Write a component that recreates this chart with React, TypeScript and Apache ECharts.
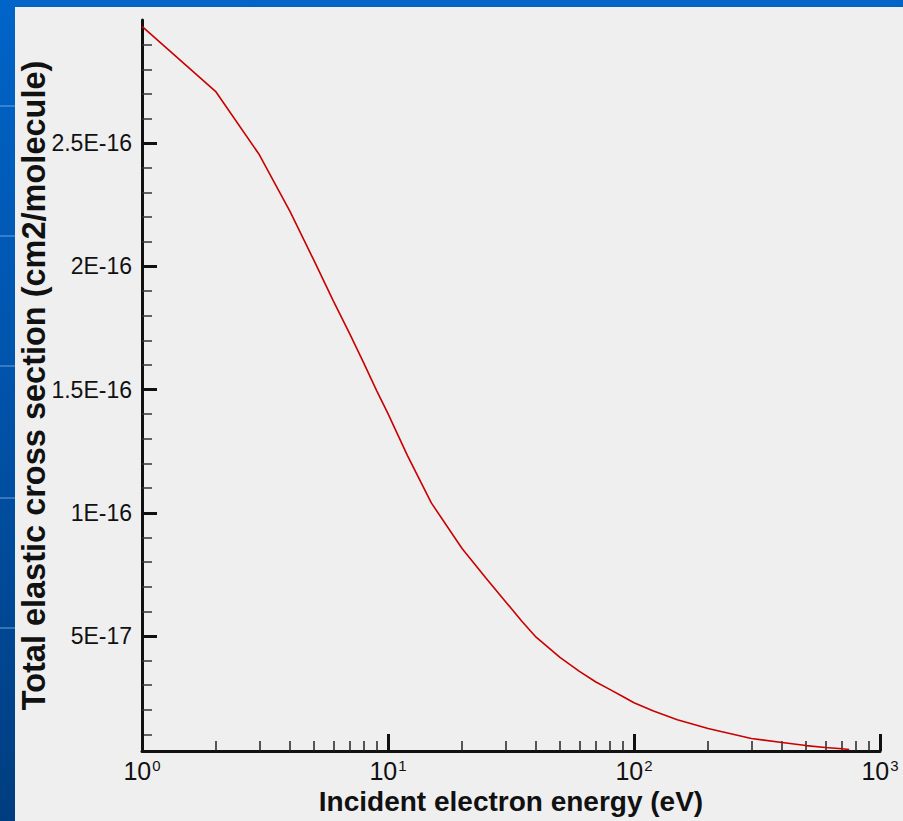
import React, { useEffect, useRef } from "react";
import * as echarts from "echarts";

const energy = [1, 2, 3, 4, 5, 6, 7, 8, 9, 10, 12, 15, 20, 25, 30, 35, 40, 50, 60, 70, 80, 90, 100, 120, 150, 200, 300, 400, 500, 600, 700, 750];
const crossSection = [
  2.974e-16, 2.708e-16, 2.453e-16, 2.222e-16, 2.024e-16, 1.859e-16, 1.725e-16, 1.604e-16, 1.495e-16, 1.402e-16,
  1.232e-16, 1.04e-16, 8.55e-17, 7.35e-17, 6.4e-17, 5.6e-17, 4.95e-17, 4.13e-17, 3.56e-17, 3.13e-17, 2.82e-17,
  2.54e-17, 2.29e-17, 1.95e-17, 1.6e-17, 1.24e-17, 8.4e-18, 6.75e-18, 5.5e-18, 4.7e-18, 4.2e-18, 3.9e-18,
];

const yMajorValues = [5e-17, 1e-16, 1.5e-16, 2e-16, 2.5e-16];
const yMajorLabels = ["5E-17", "1E-16", "1.5E-16", "2E-16", "2.5E-16"];
const yMinorValues = [1e-17, 2e-17, 3e-17, 4e-17, 6e-17, 7e-17, 8e-17, 9e-17, 1.1e-16, 1.2e-16, 1.3e-16, 1.4e-16, 1.6e-16, 1.7e-16, 1.8e-16, 1.9e-16, 2.1e-16, 2.2e-16, 2.3e-16, 2.4e-16, 2.6e-16, 2.7e-16, 2.8e-16, 2.9e-16];
const xMajorValues = [1, 10, 100, 1000];
const xMajorExponents = ["0", "1", "2", "3"];
const xMinorValues = [2, 3, 4, 5, 6, 7, 8, 9, 20, 30, 40, 50, 60, 70, 80, 90, 200, 300, 400, 500, 600, 700, 800, 900];

const Y_MIN = 3.3e-18;
const Y_MAX = 3e-16;

const stripLines = [105, 235, 365, 497, 627];

export default function App() {
  const ref = useRef<HTMLDivElement>(null);

  useEffect(() => {
    if (!ref.current) return;
    const chart = echarts.init(ref.current, null, { renderer: "svg" });
    const font = "'Liberation Sans', Arial, Helvetica, sans-serif";
    const nearestIndex = (arr: number[], v: number) => {
      let best = 0;
      for (let i = 1; i < arr.length; i++) {
        if (Math.abs(arr[i] - v) < Math.abs(arr[best] - v)) best = i;
      }
      return best;
    };
    chart.setOption({
      animation: false,
      backgroundColor: "#efefef",
      grid: { left: 127, right: 23, top: 13, bottom: 70, containLabel: false, outerBoundsMode: "none" },
      xAxis: [
        {
          type: "log",
          logBase: 10,
          min: 1,
          max: 1000,
          name: "Incident electron energy (eV)",
          nameLocation: "middle",
          nameGap: 36,
          nameMoveOverlap: false,
          nameTextStyle: { fontFamily: font, fontWeight: "bold", fontSize: 28, color: "#111" },
          axisLine: { show: true, lineStyle: { color: "#111", width: 3 } },
          axisTick: { show: true, inside: true, length: 17, lineStyle: { color: "#111", width: 3 }, customValues: xMajorValues },
          axisLabel: {
            show: true,
            margin: 7,
            customValues: xMajorValues,
            showMinLabel: true,
            showMaxLabel: true,
            formatter: (v: number) => "{b|10}{s|" + xMajorExponents[nearestIndex(xMajorValues, v)] + "}",
            rich: {
              b: { fontFamily: font, fontSize: 25, color: "#111", lineHeight: 26, verticalAlign: "top" },
              s: { fontFamily: font, fontSize: 15, color: "#111", lineHeight: 26, verticalAlign: "top", padding: [0, 0, 0, 1] },
            },
          },
          splitLine: { show: false },
          minorTick: { show: false },
        },
        {
          type: "log",
          logBase: 10,
          min: 1,
          max: 1000,
          position: "bottom",
          axisLine: { show: false },
          axisTick: { show: true, inside: true, length: 10, lineStyle: { color: "#222", width: 1.5 }, customValues: xMinorValues },
          axisLabel: { show: false },
          splitLine: { show: false },
        },
      ],
      yAxis: [
        {
          type: "value",
          min: Y_MIN,
          max: Y_MAX,
          name: "Total elastic cross section (cm2/molecule)",
          nameLocation: "middle",
          nameGap: 92,
          nameRotate: 90,
          nameMoveOverlap: false,
          nameTextStyle: { fontFamily: font, fontWeight: "bold", fontSize: 32.5, color: "#111" },
          axisLine: { show: true, lineStyle: { color: "#111", width: 3 } },
          axisTick: { show: true, inside: true, length: 15, lineStyle: { color: "#111", width: 3 }, customValues: yMajorValues },
          axisLabel: {
            show: true,
            margin: 10,
            customValues: yMajorValues,
            fontFamily: font,
            fontSize: 23,
            color: "#111",
            formatter: (v: number) => yMajorLabels[nearestIndex(yMajorValues, v)],
          },
          splitLine: { show: false },
        },
        {
          type: "value",
          min: Y_MIN,
          max: Y_MAX,
          position: "left",
          axisLine: { show: false },
          axisTick: { show: true, inside: true, length: 10, lineStyle: { color: "#333", width: 1.5 }, customValues: yMinorValues },
          axisLabel: { show: false },
          splitLine: { show: false },
        },
      ],
      series: [
        {
          type: "line",
          xAxisIndex: 0,
          yAxisIndex: 0,
          showSymbol: false,
          symbol: "none",
          data: energy.map((e, i) => [e, crossSection[i]]),
          lineStyle: { color: "#c80000", width: 1.6 },
          z: 1,
        },
      ],
    });
    return () => chart.dispose();
  }, []);

  return (
    <div
      style={{
        position: "absolute",
        left: 0,
        top: 0,
        width: 903,
        height: 821,
        background: "linear-gradient(180deg, #0064c8 0%, #0052a8 50%, #003d80 100%)",
        overflow: "hidden",
      }}
    >
      {stripLines.map((y) => (
        <div key={y} style={{ position: "absolute", left: 0, top: y, width: 15, height: 2, background: "rgba(120,170,230,0.45)" }} />
      ))}
      <div ref={ref} style={{ position: "absolute", left: 15, top: 7, width: 888, height: 814 }} />
    </div>
  );
}
